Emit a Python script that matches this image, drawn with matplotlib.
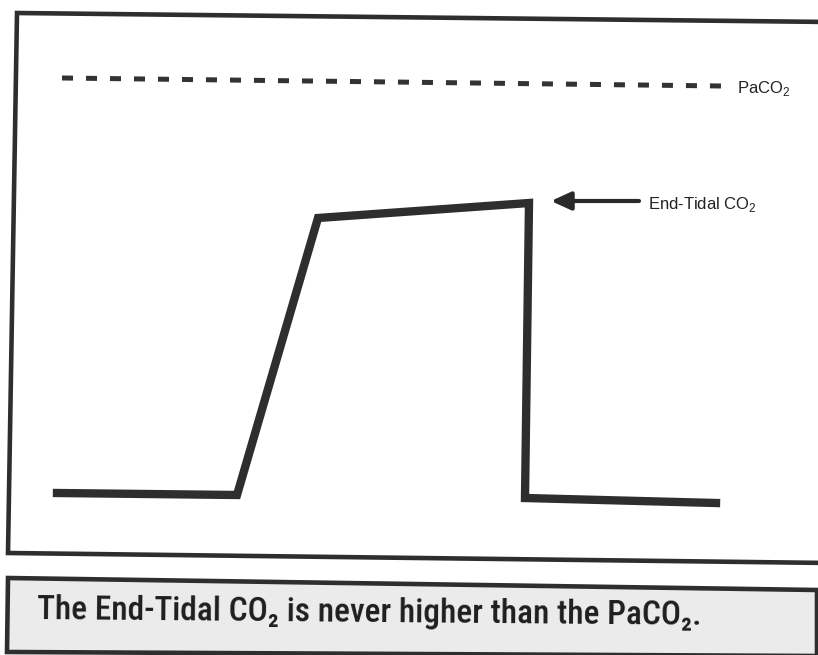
import matplotlib.pyplot as plt
from matplotlib.patches import Polygon

# capnogram waveform (coordinates, y grows downward)
wave_x = [57, 237, 318, 529, 525, 716]
wave_y = [493, 495, 218, 203, 498, 503]

# PaCO2 reference level (dashed)
paco2_x = [62, 722]
paco2_y = [78, 86]

# frame of the chart (top, left, bottom edges; right edge is cut off in the scan)
frame_x = [830, 17, 8, 830]
frame_y = [22, 13, 553, 563]

# caption box corners
cap_x = [8, 817, 817, 7]
cap_y = [578, 590, 656, 652]

caption = "The End-Tidal CO₂ is never higher than the PaCO₂."
ink = '#2e2e2e'
label_font = ['Liberation Sans', 'DejaVu Sans']

fig = plt.figure(figsize=(8.18, 6.55), dpi=100)
ax = fig.add_axes([0, 0, 1, 1])
ax.set_xlim(0, 818)
ax.set_ylim(655, 0)
ax.axis('off')

ax.plot(frame_x, frame_y, color=ink, lw=3.3, solid_joinstyle='miter')
ax.add_patch(Polygon(list(zip(cap_x, cap_y)), closed=True, fc='#ebebeb',
                     ec=ink, lw=3.3, joinstyle='miter'))

ax.plot(paco2_x, paco2_y, color='#333333', lw=3.6, dashes=(2.2, 2.6),
        dash_capstyle='butt')
ax.text(737, 93, r'PaCO$_\mathregular{2}$', fontsize=12, color='#222222',
        family=label_font)

ax.plot(wave_x, wave_y, color=ink, lw=6, solid_joinstyle='miter')

ax.annotate('', xy=(551, 201), xytext=(639, 201),
            arrowprops=dict(arrowstyle='-|>,head_length=1.2,head_width=0.55',
                            color='#2a2a2a', lw=3, shrinkA=0, shrinkB=0))
ax.text(648, 209, r'End-Tidal CO$_\mathregular{2}$', fontsize=12, color='#222222',
        family=label_font)

ax.text(37, 625, caption, fontsize=24, fontweight=500, color='#1e1e1e',
        family=['Roboto Condensed', 'DejaVu Sans'], va='baseline', rotation=-0.5)

fig.savefig('out.png', dpi=100)
